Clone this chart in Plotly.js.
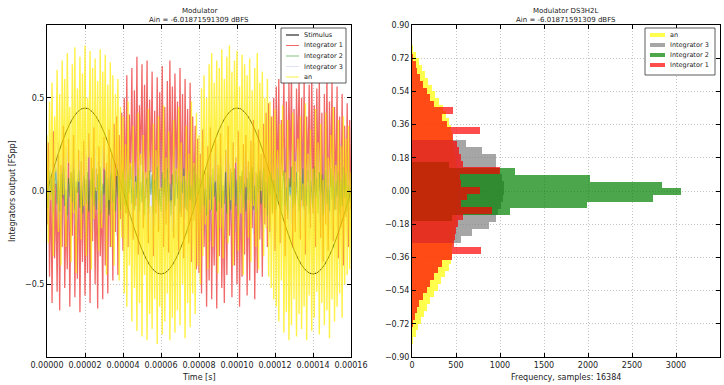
<!DOCTYPE html>
<html>
<head>
<meta charset="utf-8">
<script src="https://cdn.plot.ly/plotly-3.0.1.min.js"></script>
<style>html,body{margin:0;padding:0;background:#fff;}#chart{width:724px;height:385px;}</style>
</head>
<body>
<div id="chart"></div>
<script>
// ---------------- data ----------------
const sampleDt = 6.6667e-7; // time step of integrator / an samples [s]
const stimDt = 2e-6;        // time step of stimulus samples [s]

const stimulus = [
  0, 0.070, 0.138, 0.202, 0.262, 0.315, 0.360, 0.397, 0.423, 0.440, 0.445,
  0.440, 0.423, 0.397, 0.360, 0.315, 0.262, 0.202, 0.138, 0.070, 0,
  -0.070, -0.138, -0.202, -0.262, -0.315, -0.360, -0.397, -0.423, -0.440, -0.445,
  -0.440, -0.423, -0.397, -0.360, -0.315, -0.262, -0.202, -0.138, -0.070, 0,
  0.070, 0.138, 0.202, 0.262, 0.315, 0.360, 0.397, 0.423, 0.440, 0.445,
  0.440, 0.423, 0.397, 0.360, 0.315, 0.262, 0.202, 0.138, 0.070, 0,
  -0.070, -0.138, -0.202, -0.262, -0.315, -0.360, -0.397, -0.423, -0.440, -0.445,
  -0.440, -0.423, -0.397, -0.360, -0.315, -0.262, -0.202, -0.138, -0.070, 0
];

const integrator1 = [
  -0.18, 0.26, -0.46, 0.08, -0.60, 0.32, -0.36, 0.04, -0.54, 0.20,
  -0.64, 0.14, -0.30, 0.35, -0.52, -0.06, -0.42, 0.28, -0.62, 0.10,
  -0.24, 0.30, -0.57, 0.02, -0.47, 0.22, -0.65, 0.16, -0.38, 0.27,
  -0.56, 0.06, -0.44, 0.31, -0.60, 0.18, -0.27, 0.34, -0.50, 0.12,
  -0.63, 0.24, -0.35, 0.00, -0.58, 0.29, -0.40, 0.15, -0.55, 0.33,
  -0.30, 0.21, -0.48, 0.36, -0.22, 0.40, -0.45, 0.30, -0.15, 0.42,
  -0.32, 0.50, -0.12, 0.62, -0.30, 0.41, 0.06, 0.66, -0.26, 0.54,
  -0.08, 0.72, -0.34, 0.46, 0.14, 0.68, -0.20, 0.57, -0.04, 0.70,
  -0.28, 0.49, 0.10, 0.64, -0.35, 0.43, -0.12, 0.61, -0.22, 0.53,
  0.00, 0.67, -0.30, 0.45, -0.18, 0.59, -0.33, 0.70, -0.06, 0.56,
  -0.25, 0.63, 0.04, 0.48, -0.32, 0.66, -0.14, 0.52, -0.36, 0.60,
  -0.10, 0.44, -0.28, 0.58, -0.38, 0.40, -0.16, 0.35, -0.42, 0.28,
  -0.44, 0.20, -0.55, 0.33, -0.30, 0.10, -0.62, 0.24, -0.48, 0.34,
  -0.58, 0.04, -0.40, 0.28, -0.63, 0.14, -0.35, 0.31, -0.52, 0.00,
  -0.60, 0.22, -0.45, 0.35, -0.24, 0.12, -0.57, 0.26, -0.40, 0.18,
  -0.50, 0.32, -0.62, 0.08, -0.46, 0.25, -0.34, 0.30, -0.56, 0.16,
  -0.48, 0.27, -0.20, 0.38, -0.58, 0.10, -0.44, 0.33, -0.26, 0.20,
  -0.46, 0.36, -0.18, 0.42, -0.30, 0.47, -0.22, 0.40, -0.12, 0.50,
  -0.32, 0.56, -0.05, 0.60, -0.28, 0.38, 0.08, 0.64, -0.35, 0.48,
  -0.15, 0.58, 0.02, 0.66, -0.30, 0.44, -0.22, 0.55, 0.10, 0.62,
  -0.26, 0.50, -0.08, 0.60, -0.34, 0.40, 0.05, 0.57, -0.20, 0.64,
  -0.12, 0.46, -0.30, 0.55, 0.00, 0.60, -0.25, 0.42, -0.38, 0.52,
  -0.18, 0.63, -0.32, 0.48, 0.02, 0.58, -0.27, 0.45, -0.10, 0.56,
  -0.36, 0.40, -0.20, 0.52, -0.40, 0.35, -0.14, 0.47, -0.30, 0.38,
  -0.10
];

const integrator2 = [
  0.04, -0.09, 0.11, -0.02, 0.08, -0.12, 0.03, 0.12, -0.07, 0.06,
  -0.11, 0.09, -0.04, 0.13, -0.08, 0.01, -0.13, 0.07, -0.03, 0.10,
  -0.06, 0.12, -0.10, 0.05, -0.01, 0.11, -0.09, 0.03, -0.12, 0.08,
  0.00, -0.07, 0.10, -0.11, 0.06, -0.04, 0.12, -0.08, 0.02, -0.10,
  0.09, -0.05, 0.13, -0.12, 0.04, -0.02, 0.11, -0.09, 0.07, -0.13,
  0.05, 0.10, -0.06, 0.01, -0.11, 0.12, -0.03, 0.08, -0.10, 0.03,
  0.11, -0.08, 0.06, -0.12, 0.09, -0.01, 0.13, -0.07, 0.02, -0.10,
  0.08, -0.04, 0.12, -0.11, 0.05, -0.06, 0.10, -0.13, 0.04, 0.07,
  -0.09, 0.11, -0.02, 0.09, -0.12, 0.06, -0.05, 0.13, -0.08, 0.01,
  -0.11, 0.10, -0.03, 0.07, -0.10, 0.12, -0.06, 0.04, -0.13, 0.09,
  0.02, -0.08, 0.11, -0.04, 0.08, -0.12, 0.05, -0.01, 0.12, -0.09,
  0.06, -0.11, 0.10, -0.05, 0.03, -0.10, 0.13, -0.07, 0.09, -0.02,
  0.07, -0.12, 0.04, 0.11, -0.08, 0.01, -0.13, 0.10, -0.05, 0.08,
  -0.10, 0.12, -0.03, 0.06, -0.11, 0.09, -0.06, 0.13, -0.09, 0.03,
  -0.07, 0.11, -0.12, 0.05, 0.00, -0.10, 0.10, -0.04, 0.12, -0.08,
  0.06, -0.13, 0.08, -0.02, 0.11, -0.09, 0.04, -0.11, 0.07, -0.05,
  0.10, -0.06, 0.13, -0.10, 0.03, -0.12, 0.09, -0.01, 0.11, -0.07,
  -0.04, 0.12, -0.09, 0.05, -0.13, 0.08, -0.02, 0.10, -0.11, 0.06,
  0.01, -0.10, 0.12, -0.06, 0.09, -0.13, 0.04, 0.11, -0.08, 0.02,
  -0.12, 0.07, -0.03, 0.13, -0.09, 0.05, -0.07, 0.10, -0.01, -0.11,
  0.08, -0.05, 0.12, -0.10, 0.03, -0.08, 0.11, -0.12, 0.06, 0.00,
  -0.09, 0.13, -0.04, 0.07, -0.12, 0.10, -0.02, 0.09, -0.13, 0.04,
  0.11, -0.07, 0.02, -0.11, 0.12, -0.05, 0.08, -0.10, 0.05, -0.03,
  0.10, -0.12, 0.06, -0.08, 0.13, -0.04, 0.09, -0.11, 0.03, -0.06,
  0.02
];

const integrator3 = [
  0.12, -0.18, 0.22, -0.05, 0.15, -0.24, 0.08, 0.20, -0.14, 0.26,
  -0.20, 0.10, -0.26, 0.18, -0.08, 0.24, -0.16, 0.04, -0.22, 0.14,
  -0.12, 0.25, -0.19, 0.06, -0.25, 0.17, -0.02, 0.21, -0.15, 0.09,
  -0.23, 0.19, -0.06, 0.27, -0.17, 0.11, -0.21, 0.03, 0.23, -0.13,
  0.16, -0.25, 0.07, -0.10, 0.24, -0.18, 0.13, -0.27, 0.20, -0.04,
  0.18, -0.21, 0.25, -0.09, 0.05, -0.24, 0.14, -0.15, 0.22, -0.19,
  0.10, -0.26, 0.19, -0.02, 0.23, -0.13, 0.08, -0.22, 0.26, -0.11,
  0.15, -0.20, 0.02, -0.25, 0.21, -0.07, 0.17, -0.16, 0.09, -0.23,
  0.24, -0.12, 0.18, -0.26, 0.06, -0.19, 0.22, -0.03, 0.14, -0.21,
  0.27, -0.14, 0.11, -0.24, 0.19, -0.08, 0.25, -0.17, 0.04, -0.22,
  0.16, -0.05, 0.23, -0.27, 0.12, -0.18, 0.20, -0.10, 0.26, -0.15,
  0.07, -0.23, 0.18, -0.01, 0.21, -0.20, 0.13, -0.25, 0.24, -0.06,
  0.14, -0.19, 0.26, -0.11, 0.03, -0.24, 0.17, -0.14, 0.22, -0.27,
  0.09, -0.16, 0.20, -0.04, 0.25, -0.21, 0.12, -0.09, 0.18, -0.23,
  0.05, -0.26, 0.23, -0.13, 0.15, -0.18, 0.27, -0.07, 0.10, -0.22,
  0.19, -0.10, 0.24, -0.25, 0.08, -0.15, 0.21, -0.20, 0.13, -0.03,
  0.22, -0.17, 0.06, -0.23, 0.26, -0.12, 0.15, -0.26, 0.02, 0.18,
  -0.21, 0.11, -0.08, 0.24, -0.19, 0.07, -0.25, 0.20, -0.13, 0.04,
  0.25, -0.22, 0.14, -0.06, 0.19, -0.27, 0.09, -0.15, 0.23, -0.10,
  0.17, -0.24, 0.03, -0.18, 0.26, -0.11, 0.21, -0.02, 0.12, -0.25,
  0.20, -0.09, 0.27, -0.20, 0.06, -0.14, 0.16, -0.26, 0.24, -0.07,
  0.10, -0.22, 0.18, -0.03, 0.23, -0.17, 0.05, -0.25, 0.19, -0.12,
  0.26, -0.08, 0.13, -0.21, 0.04, -0.26, 0.22, -0.11, 0.16, -0.19,
  0.08, -0.24, 0.25, -0.05, 0.17, -0.16, 0.11, -0.23, 0.20, -0.14,
  0.11
];

const an = [
  0.30, -0.28, 0.48, -0.05, 0.58, -0.35, 0.40, 0.10, 0.65, -0.22,
  0.52, -0.40, 0.70, -0.02, 0.60, -0.30, 0.74, 0.15, 0.45, -0.38,
  0.68, -0.12, 0.77, -0.44, 0.55, 0.05, 0.72, -0.26, 0.63, -0.08,
  0.78, -0.35, 0.50, 0.18, 0.75, -0.42, 0.66, -0.15, 0.71, 0.00,
  0.59, -0.32, 0.76, -0.20, 0.64, 0.12, 0.73, -0.45, 0.57, -0.05,
  0.69, -0.30, 0.62, -0.40, 0.52, 0.08, 0.60, -0.48, 0.45, -0.25,
  0.40, -0.55, 0.25, -0.62, 0.48, -0.40, 0.15, -0.70, 0.35, -0.52,
  0.05, -0.75, 0.42, -0.60, 0.20, -0.78, 0.30, -0.45, 0.10, -0.80,
  0.44, -0.66, -0.08, -0.74, 0.36, -0.58, 0.22, -0.82, 0.40, -0.62,
  0.02, -0.77, 0.46, -0.70, 0.18, -0.55, 0.32, -0.80, -0.05, -0.68,
  0.38, -0.76, 0.12, -0.64, 0.45, -0.72, 0.26, -0.50, 0.08, -0.79,
  0.35, -0.60, 0.20, -0.73, 0.48, -0.55, 0.15, -0.66, 0.42, -0.40,
  0.30, -0.50, 0.55, -0.35, 0.62, -0.18, 0.50, -0.42, 0.68, -0.10,
  0.74, -0.30, 0.58, 0.05, 0.70, -0.44, 0.66, -0.20, 0.76, -0.36,
  0.60, 0.10, 0.72, -0.28, 0.78, -0.05, 0.64, -0.40, 0.70, 0.15,
  0.75, -0.32, 0.56, -0.12, 0.73, -0.45, 0.68, 0.02, 0.62, -0.25,
  0.71, -0.38, 0.54, -0.08, 0.66, -0.30, 0.74, -0.42, 0.58, 0.00,
  0.64, -0.35, 0.50, -0.20, 0.60, -0.46, 0.48, -0.52, 0.40, -0.58,
  0.44, -0.62, 0.22, -0.70, 0.36, -0.48, 0.46, -0.76, 0.10, -0.65,
  0.38, -0.80, -0.02, -0.72, 0.42, -0.58, 0.16, -0.78, 0.28, -0.66,
  0.40, -0.74, 0.04, -0.62, 0.47, -0.80, 0.20, -0.56, 0.33, -0.75,
  0.12, -0.68, 0.44, -0.54, 0.26, -0.77, 0.36, -0.60, 0.06, -0.72,
  0.42, -0.64, 0.18, -0.79, 0.30, -0.58, 0.45, -0.70, 0.14, -0.62,
  0.38, -0.55, 0.24, -0.68, 0.40, -0.50, 0.28, -0.45, 0.35, -0.42,
  0.10
];

// histogram (bin centers in FSpp, counts in samples)
const anBinWidth = 0.036;
const anBins = [0.774, 0.738, 0.702, 0.666, 0.630, 0.594, 0.558, 0.522, 0.486, 0.450,
  0.414, 0.378, 0.342, 0.306, 0.270, 0.234, 0.198, 0.162, 0.126, 0.090,
  0.054, 0.018, -0.018, -0.054, -0.090, -0.126, -0.162, -0.198, -0.234, -0.270,
  -0.306, -0.342, -0.378, -0.414, -0.450, -0.486, -0.522, -0.558, -0.594, -0.630,
  -0.666, -0.702, -0.738, -0.774, -0.810];
const anCounts = [12, 40, 75, 110, 150, 185, 225, 265, 310, 350,
  390, 420, 440, 460, 470, 480, 490, 500, 505, 510,
  515, 515, 515, 510, 505, 500, 495, 490, 480, 470,
  460, 455, 445, 420, 370, 330, 290, 250, 210, 175,
  140, 105, 70, 40, 15];

const int3BinWidth = 0.037;
const int3Bins = [0.256, 0.219, 0.182, 0.145, 0.108, 0.071, 0.034, -0.003, -0.040, -0.077,
  -0.114, -0.151, -0.188, -0.225, -0.262];
const int3Counts = [610, 800, 950, 960, 990, 1020, 1040, 1050, 1030, 1010,
  980, 960, 880, 680, 560];

const int2BinWidth = 0.036;
const int2Bins = [0.141, 0.105, 0.069, 0.033, -0.003, -0.039, -0.075, -0.111, -0.147];
const int2Counts = [420, 1170, 2020, 2840, 3060, 2740, 1990, 1110, 450];

const int1BinWidth = 0.036;
const int1Bins = [0.723, 0.687, 0.651, 0.615, 0.579, 0.543, 0.507, 0.471, 0.435, 0.399,
  0.363, 0.327, 0.291, 0.255, 0.219, 0.183, 0.147, 0.111, 0.075, 0.039,
  0.003, -0.033, -0.069, -0.105, -0.141, -0.177, -0.213, -0.249, -0.285, -0.321,
  -0.357, -0.393, -0.429, -0.465, -0.501, -0.537, -0.573, -0.609, -0.645, -0.681,
  -0.717];
const int1Counts = [10, 45, 60, 90, 125, 175, 210, 250, 465, 340,
  395, 773, 470, 510, 530, 555, 580, 1000, 540, 560,
  770, 630, 560, 905, 580, 520, 500, 490, 480, 785,
  460, 340, 290, 250, 200, 165, 120, 85, 55, 35,
  15];

const leftTitle = ['Modulator', 'Ain = -6.01871591309 dBFS'];
const rightTitle = ['Modulator DS3H2L', 'Ain = -6.01871591309 dBFS'];
const xTitleLeft = 'Time [s]';
const yTitleLeft = 'Integrators output [FSpp]';
const xTitleRight = 'Frequency, samples: 16384';

// ---------------- styles ----------------
const W = 724, H = 385;
const FONT = '"DejaVu Sans", Arial, sans-serif';
const col = {
  stim: '#000000',
  int1: 'rgba(235,40,40,0.7)',
  int2: 'rgba(0,140,0,0.5)',
  int3: 'rgba(150,160,220,0.3)',
  an: 'rgba(255,236,0,0.72)',
  hAn: 'rgba(255,255,0,0.7)',
  hInt3: 'rgba(128,128,128,0.7)',
  hInt2: 'rgba(0,128,0,0.7)',
  hInt1: 'rgba(255,0,0,0.7)'
};
const px = x => x / W;
const py = y => 1 - y / H;

const line = (y, dx, c, name, w) => ({
  type: 'scatter', mode: 'lines', x0: 0, dx: dx, y: y, name: name,
  line: {color: c, width: w, simplify: false}, xaxis: 'x', yaxis: 'y',
  showlegend: false, hoverinfo: 'skip'
});
const hbar = (centers, counts, w, c, name) => ({
  type: 'bar', orientation: 'h', y: centers, x: counts, width: w, name: name,
  marker: {color: c, line: {width: 0}}, xaxis: 'x2', yaxis: 'y2',
  showlegend: false, hoverinfo: 'skip'
});

const traces = [
  line(stimulus, stimDt, col.stim, 'Stimulus', 1),
  line(integrator1, sampleDt, col.int1, 'Integrator 1', 1.3),
  line(integrator2, sampleDt, col.int2, 'Integrator 2', 1.2),
  line(integrator3, sampleDt, col.int3, 'Integrator 3', 1.2),
  line(an, sampleDt, col.an, 'an', 1.4),
  hbar(anBins, anCounts, anBinWidth, col.hAn, 'an'),
  hbar(int3Bins, int3Counts, int3BinWidth, col.hInt3, 'Integrator 3'),
  hbar(int2Bins, int2Counts, int2BinWidth, col.hInt2, 'Integrator 2'),
  hbar(int1Bins, int1Counts, int1BinWidth, col.hInt1, 'Integrator 1')
];

const axisCommon = {
  showline: true, linecolor: '#000', linewidth: 1, mirror: 'ticks',
  ticks: 'inside', ticklen: 4, tickcolor: '#000', tickwidth: 1,
  showgrid: true, gridcolor: '#c4c4c4', griddash: '1px,2px', gridwidth: 1,
  zeroline: false, tickangle: 0,
  tickfont: {family: FONT, size: 8, color: '#222'}
};

const yDom = [py(357), py(25)];
const layout = {
  width: W, height: H,
  margin: {l: 0, r: 0, t: 0, b: 0},
  paper_bgcolor: '#fff', plot_bgcolor: '#fff',
  showlegend: false,
  barmode: 'overlay', bargap: 0,
  font: {family: FONT, size: 8, color: '#222'},
  xaxis: Object.assign({}, axisCommon, {domain: [px(47), px(351)], range: [0, 0.00016], dtick: 0.00002, tick0: 0, tickformat: '.5f', anchor: 'y'}),
  yaxis: Object.assign({}, axisCommon, {domain: yDom, range: [-0.89, 0.89], dtick: 0.5, tick0: 0, tickformat: '.1f', anchor: 'x'}),
  xaxis2: Object.assign({}, axisCommon, {domain: [px(412), px(720)], range: [0, 3500], dtick: 500, tick0: 0, anchor: 'y2'}),
  yaxis2: Object.assign({}, axisCommon, {domain: yDom, range: [-0.9, 0.9], dtick: 0.18, tick0: 0, tickformat: '.2f', anchor: 'x2'}),
  annotations: [],
  shapes: []
};

const ann = (text, x, y, opts) => Object.assign({
  text: text, x: px(x), y: py(y), xref: 'paper', yref: 'paper',
  showarrow: false, xanchor: 'center', yanchor: 'middle',
  font: {family: FONT, size: 7, color: '#222'}
}, opts || {});

// titles
layout.annotations.push(ann(leftTitle[0], 199, 11));
layout.annotations.push(ann(leftTitle[1], 199, 20));
layout.annotations.push(ann(rightTitle[0], 566, 11));
layout.annotations.push(ann(rightTitle[1], 566, 20));
layout.annotations.push(ann(xTitleLeft, 199, 377, {font: {family: FONT, size: 8, color: '#222'}}));
layout.annotations.push(ann(xTitleRight, 566, 377, {font: {family: FONT, size: 8, color: '#222'}}));
layout.annotations.push(ann(yTitleLeft, 12, 191, {textangle: -90, font: {family: FONT, size: 8, color: '#222'}}));

// legends (drawn as box + samples + text)
function drawLegend(box, items, kind) {
  layout.shapes.push({type: 'rect', xref: 'paper', yref: 'paper',
    x0: px(box.x0), x1: px(box.x1), y0: py(box.y1), y1: py(box.y0),
    line: {color: '#333', width: 0.8}, fillcolor: '#fff', layer: 'above'});
  items.forEach((it, i) => {
    const yy = box.firstRow + i * box.rowH;
    if (kind === 'line') {
      layout.shapes.push({type: 'line', xref: 'paper', yref: 'paper',
        x0: px(box.x0 + 5), x1: px(box.x0 + 18), y0: py(yy), y1: py(yy),
        line: {color: it.color, width: 1}, layer: 'above'});
    } else {
      layout.shapes.push({type: 'rect', xref: 'paper', yref: 'paper',
        x0: px(box.x0 + 5), x1: px(box.x0 + 20), y0: py(yy + 2), y1: py(yy - 2),
        line: {width: 0}, fillcolor: it.color, layer: 'above'});
    }
    layout.annotations.push(ann(it.name, box.x0 + (kind === 'line' ? 21 : 23), yy,
      {xanchor: 'left', font: {family: FONT, size: 6.5, color: '#222'}}));
  });
}
drawLegend({x0: 281, x1: 346, y0: 28, y1: 83, firstRow: 35, rowH: 10.5}, [
  {name: 'Stimulus', color: col.stim},
  {name: 'Integrator 1', color: col.int1},
  {name: 'Integrator 2', color: col.int2},
  {name: 'Integrator 3', color: col.int3},
  {name: 'an', color: col.an}
], 'line');
drawLegend({x0: 645, x1: 715, y0: 28, y1: 75, firstRow: 35, rowH: 10}, [
  {name: 'an', color: col.hAn},
  {name: 'Integrator 3', color: col.hInt3},
  {name: 'Integrator 2', color: col.hInt2},
  {name: 'Integrator 1', color: col.hInt1}
], 'patch');

Plotly.newPlot('chart', traces, layout, {staticPlot: true, displayModeBar: false});
</script>
</body>
</html>
